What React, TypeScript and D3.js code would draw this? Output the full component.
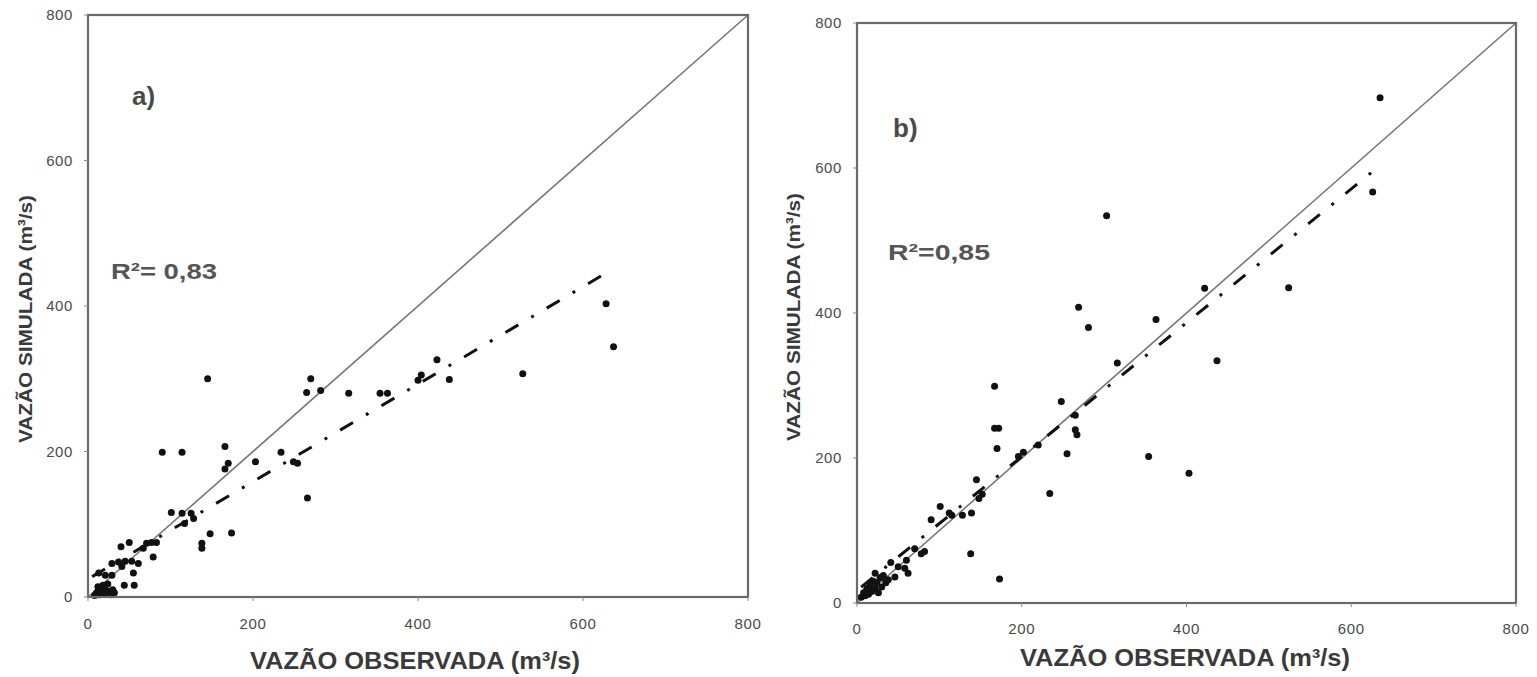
import React from 'react';
import * as d3 from 'd3';

// ---------- data ----------
const tickValues = [0, 200, 400, 600, 800];
const tickLabels = ['0', '200', '400', '600', '800'];
const identityLine = [0, 800];

// panel a) observed / simulated flows (m3/s)
const obsA = [8, 10, 12, 14, 16, 18, 20, 22, 25, 28, 30, 12, 18, 24, 32,
  13, 21, 29, 41, 29, 37, 45, 53, 61,
  44, 56, 55,
  40, 50, 67, 71, 77, 83, 79,
  101, 114, 125, 117, 128,
  90, 114, 148, 174, 138, 138,
  145, 166, 170, 166, 203, 234, 249, 254, 266,
  265, 270, 282, 316, 354, 363,
  400, 404, 423, 438, 527, 628, 637];
const simA = [2, 5, 8, 3, 10, 6, 12, 4, 8, 3, 10, 14, 16, 18, 6,
  33, 30, 30, 42, 46, 48, 49, 49, 46,
  16, 16, 33,
  69, 75, 67, 74, 75, 75, 55,
  116, 115, 115, 101, 108,
  199, 199, 87, 88, 74, 67,
  300, 207, 184, 176, 186, 199, 186, 184, 136,
  281, 300, 284, 280, 280, 280,
  298, 305, 326, 299, 307, 403, 344];
const regObsA = [5, 635];
const regSimA = [28, 450];

// panel b)
const obsB = [5, 8, 10, 12, 14, 16, 18, 20, 22, 24, 26, 28, 30, 32, 35, 38,
  22, 30, 46, 41, 50, 58, 62, 70, 78, 82, 60,
  90, 101, 112, 115, 128, 139, 138, 145, 148, 152, 173,
  167, 172, 170, 167, 196, 202, 220, 234, 248, 255, 265, 265, 267,
  269, 281, 303, 316, 354, 363, 403, 422, 437, 524, 626, 635];
const simB = [8, 14, 10, 20, 12, 25, 16, 30, 20, 28, 14, 35, 22, 38, 28, 32,
  41, 36, 36, 56, 50, 48, 41, 75, 68, 71, 59,
  115, 133, 124, 121, 121, 124, 68, 170, 144, 150, 33,
  241, 241, 213, 299, 202, 208, 218, 151, 278, 206, 259, 239, 232,
  408, 380, 534, 331, 202, 391, 179, 434, 334, 435, 567, 697];
const regObsB = [5, 628];
const regSimB = [22, 597];

const FONT = '"Liberation Sans", Arial, Helvetica, sans-serif';

type PanelProps = {
  left: number; right: number; top: number; bottom: number;
  obs: number[]; sim: number[]; regObs: number[]; regSim: number[];
  letter: string; letterX: number; letterY: number;
  r2: string; r2X: number; r2Y: number; r2W: number;
  yLabelRight: number; xLabelY: number;
  xTitleX: number; xTitleY: number; yTitleX: number; yTitleY: number;
};

function Panel(p: PanelProps) {
  const x = d3.scaleLinear().domain([0, 800]).range([p.left, p.right]);
  const y = d3.scaleLinear().domain([0, 800]).range([p.bottom, p.top]);
  const line = d3.line<[number, number]>().x(d => x(d[0])).y(d => y(d[1]));
  const idPts: [number, number][] = identityLine.map(v => [v, v]);
  const regPts: [number, number][] = p.regObs.map((v, i) => [v, p.regSim[i]]);
  return (
    <g>
      {/* 1:1 line */}
      <path d={line(idPts) || ''} stroke="#777" strokeWidth={1.6} fill="none" />
      {/* regression line */}
      <path d={line(regPts) || ''} stroke="#111" strokeWidth={3} fill="none"
        strokeDasharray="15 15 3 15" />
      {/* points */}
      {p.obs.map((o, i) => (
        <circle key={i} cx={x(o)} cy={y(p.sim[i])} r={3.5} fill="#111" />
      ))}
      {/* frame */}
      <rect x={p.left} y={p.top} width={p.right - p.left} height={p.bottom - p.top}
        fill="none" stroke="#6a6a6a" strokeWidth={2.2} />
      {/* ticks */}
      {tickValues.map((t, i) => (
        <g key={'x' + i}>
          <line x1={x(t)} x2={x(t)} y1={p.bottom} y2={p.bottom + 4} stroke="#888" strokeWidth={1} />
          <text x={x(t)} y={p.xLabelY} textAnchor="middle" fontFamily={FONT} fontSize={15}
            fill="#4a4a4a" letterSpacing={0.6}>{tickLabels[i]}</text>
        </g>
      ))}
      {tickValues.map((t, i) => (
        <g key={'y' + i}>
          <line x1={p.left - 4} x2={p.left} y1={y(t)} y2={y(t)} stroke="#888" strokeWidth={1} />
          <text x={p.yLabelRight} y={y(t)} dy="0.35em" textAnchor="end" fontFamily={FONT} fontSize={15}
            fill="#4a4a4a" letterSpacing={0.6}>{tickLabels[i]}</text>
        </g>
      ))}
      {/* annotations */}
      <text x={p.letterX} y={p.letterY} fontFamily={FONT} fontSize={26} fontWeight="bold" fill="#4a4a4a">{p.letter}</text>
      <text x={p.r2X} y={p.r2Y} fontFamily={FONT} fontSize={22} fontWeight="bold" fill="#555"
        textLength={p.r2W} lengthAdjust="spacingAndGlyphs">{p.r2}</text>
      {/* axis titles */}
      <text x={p.xTitleX} y={p.xTitleY} fontFamily={FONT} fontSize={24} fontWeight="bold" fill="#3a3a3a"
        textLength={330} lengthAdjust="spacingAndGlyphs">VAZÃO OBSERVADA (m³/s)</text>
      <text transform={`translate(${p.yTitleX},${p.yTitleY}) rotate(-90)`} fontFamily={FONT} fontSize={19}
        fontWeight="bold" fill="#3a3a3a" textLength={248} lengthAdjust="spacingAndGlyphs">VAZÃO SIMULADA (m³/s)</text>
    </g>
  );
}

export default function App() {
  return (
    <svg width={1537} height={677} style={{ position: 'absolute', left: 0, top: 0, background: '#fff' }}>
      <rect x={0} y={0} width={1537} height={677} fill="#fff" />
      <Panel left={88} right={748} top={15} bottom={597}
        obs={obsA} sim={simA} regObs={regObsA} regSim={regSimA}
        letter="a)" letterX={132} letterY={105}
        r2="R²= 0,83" r2X={111} r2Y={279} r2W={106}
        yLabelRight={73} xLabelY={629}
        xTitleX={250} xTitleY={669} yTitleX={32} yTitleY={443} />
      <Panel left={857} right={1516} top={23} bottom={603}
        obs={obsB} sim={simB} regObs={regObsB} regSim={regSimB}
        letter="b)" letterX={893} letterY={137}
        r2="R²=0,85" r2X={888} r2Y={260} r2W={102}
        yLabelRight={842} xLabelY={634}
        xTitleX={1020} xTitleY={666} yTitleX={800} yTitleY={441} />
    </svg>
  );
}
